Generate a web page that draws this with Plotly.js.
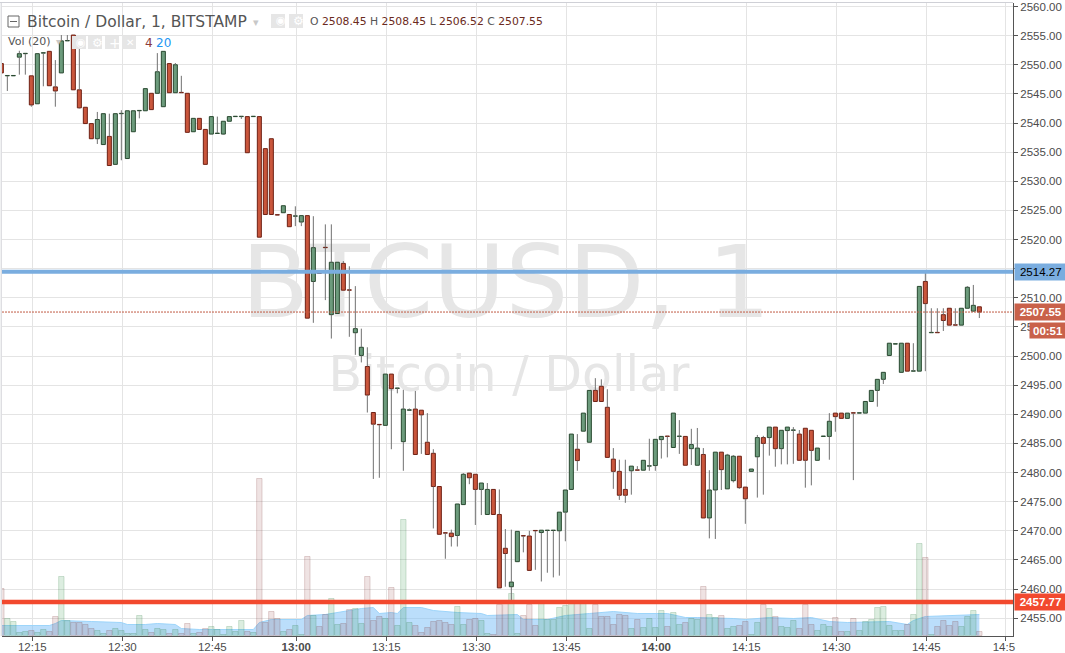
<!DOCTYPE html>
<html><head><meta charset="utf-8">
<script src="https://cdn.plot.ly/plotly-3.0.1.min.js"></script>
<style>html,body{margin:0;padding:0;background:#fff;overflow:hidden}#c{width:1065px;height:653px}</style>
</head><body><div id="c"></div>
<script>
const openP=[2550.2,2548.1,2548.1,2551.3,2551.9,2548.1,2543.3,2552.0,2552.3,2546.2,
2548.6,2554.1,2555.1,2545.7,2542.7,2539.9,2537.3,2536.3,2537.7,2532.9,
2541.6,2533.9,2538.5,2542.1,2542.1,2545.1,2545.1,2542.8,2550.2,2545.2,
2545.25,2545.1,2538.5,2540.8,2538.9,2538.1,2538.2,2538.1,2540.3,2541.1,
2541.1,2541.1,2541.1,2541.1,2535.6,2537.3,2524.25,2524.6,2524.3,2524.0,
2523.0,2524.1,2512.8,2514.25,2518.65,2507.1,2507.3,2515.9,2511.35,2504.0,
2500.1,2498.2,2490.3,2488.25,2488.1,2496.9,2494.45,2485.3,2490.7,2490.9,
2490.7,2485.2,2483.3,2477.6,2469.65,2469.6,2469.2,2474.5,2479.9,2479.7,
2477.1,2472.8,2477.1,2472.8,2467.0,2460.4,2464.7,2469.15,2469.1,2470.05,
2469.7,2470.05,2470.05,2470.0,2473.2,2477.1,2484.0,2487.1,2485.2,2494.1,
2494.8,2491.2,2482.3,2480.2,2477.1,2480.3,2480.45,2480.4,2481.1,2481.2,
2485.65,2486.25,2484.3,2486.2,2486.2,2484.1,2481.25,2483.1,2472.2,2477.0,
2483.5,2477.2,2478.6,2482.8,2477.5,2480.2,2482.7,2486.0,2486.0,2487.8,
2484.1,2487.2,2487.25,2486.6,2487.6,2487.25,2482.1,2486.2,2486.2,2490.2,
2490.2,2489.3,2490.25,2490.2,2490.2,2492.2,2494.1,2496.0,2500.1,2502.05,
2497.2,2502.2,2497.4,2497.4,2512.8,2504.0,2504.05,2507.1,2508.2,2505.35,
2505.3,2508.2,2507.7,2508.45];
const closeP=[2548.6,2548.15,2548.15,2551.9,2551.95,2543.1,2551.9,2552.05,2546.4,2545.5,
2554.1,2554.15,2545.7,2542.6,2539.9,2537.3,2540.6,2541.6,2532.7,2541.6,
2541.65,2542.1,2542.1,2542.15,2545.9,2542.3,2548.8,2552.3,2545.2,2550.0,
2545.2,2538.4,2540.8,2538.9,2532.9,2541.1,2538.25,2540.3,2541.1,2541.15,
2541.15,2534.9,2541.15,2520.4,2524.3,2524.3,2524.2,2525.8,2522.2,2524.05,
2524.1,2506.5,2518.6,2514.2,2518.6,2516.1,2516.1,2511.3,2511.3,2504.7,
2501.5,2493.3,2488.3,2488.2,2496.9,2494.4,2494.5,2490.9,2490.75,2483.1,
2489.9,2483.1,2477.6,2469.4,2469.6,2469.0,2474.6,2479.7,2479.1,2477.1,
2478.2,2477.1,2472.8,2460.2,2466.1,2461.2,2469.9,2469.1,2463.2,2470.0,
2470.1,2470.1,2470.1,2473.2,2477.0,2486.6,2482.05,2490.2,2494.1,2492.2,
2492.2,2482.6,2480.2,2476.1,2476.1,2481.1,2480.4,2482.1,2481.15,2485.7,
2486.2,2486.2,2490.2,2486.25,2481.25,2484.8,2484.2,2472.2,2477.0,2483.5,
2480.5,2483.0,2482.8,2477.4,2475.5,2480.6,2486.0,2485.0,2487.8,2484.1,
2487.25,2487.8,2487.3,2482.1,2482.1,2483.8,2484.2,2486.25,2488.8,2489.6,
2489.3,2490.2,2490.2,2490.25,2492.2,2494.1,2496.0,2497.2,2502.2,2502.1,
2502.2,2497.4,2497.45,2511.95,2509.0,2504.05,2504.0,2506.1,2505.3,2505.3,
2508.2,2511.8,2508.7,2507.55];
const highP=[2550.2,2548.15,2548.15,2552.4,2551.95,2548.1,2551.9,2552.05,2552.3,2550.8,
2555.1,2555.1,2555.1,2554.2,2542.7,2539.9,2541.9,2541.6,2541.6,2541.6,
2542.2,2542.1,2542.1,2542.15,2545.9,2545.1,2552.0,2552.3,2550.2,2550.3,
2548.1,2545.1,2540.8,2540.8,2538.9,2541.1,2541.1,2540.3,2541.1,2541.15,
2541.15,2541.1,2541.15,2541.1,2535.6,2537.3,2524.25,2525.8,2524.3,2525.7,
2524.1,2524.1,2524.0,2514.25,2522.6,2522.6,2516.1,2516.3,2515.4,2512.0,
2504.7,2501.5,2490.3,2488.25,2496.9,2496.9,2494.5,2494.2,2491.0,2494.0,
2490.7,2490.2,2484.0,2477.6,2469.65,2470.2,2474.6,2479.9,2479.9,2479.7,
2478.2,2478.2,2477.1,2477.1,2470.3,2470.2,2469.9,2469.15,2470.0,2470.05,
2470.1,2470.1,2470.1,2473.2,2477.0,2486.6,2486.6,2490.2,2494.1,2496.2,
2496.0,2494.3,2484.2,2482.2,2482.2,2481.1,2481.1,2482.1,2485.8,2485.7,
2486.2,2486.25,2490.2,2489.0,2486.2,2487.5,2487.65,2484.2,2480.4,2483.5,
2483.5,2483.2,2483.0,2482.8,2477.5,2480.6,2486.45,2486.3,2487.8,2487.8,
2487.25,2487.8,2487.8,2487.3,2487.6,2487.25,2484.2,2486.25,2490.2,2490.2,
2490.2,2490.2,2490.25,2490.25,2492.2,2494.1,2496.0,2497.2,2502.2,2502.1,
2502.2,2502.2,2502.2,2511.95,2514.3,2508.2,2508.2,2508.2,2508.2,2508.2,
2508.2,2512.0,2512.2,2508.45];
const lowP=[2548.6,2545.5,2548.1,2548.3,2548.3,2542.8,2543.3,2546.3,2546.4,2542.8,
2548.6,2554.1,2545.7,2542.5,2539.9,2537.3,2536.4,2536.3,2532.7,2532.9,
2533.6,2533.9,2538.5,2540.8,2542.1,2542.3,2545.1,2542.8,2545.2,2545.2,
2545.2,2538.4,2538.5,2538.9,2532.9,2538.1,2538.2,2538.0,2540.3,2541.1,
2540.7,2534.9,2541.1,2520.4,2524.3,2524.3,2524.2,2524.6,2522.2,2522.3,
2522.3,2506.5,2505.7,2514.2,2509.6,2503.0,2507.3,2511.3,2503.3,2500.2,
2498.9,2490.3,2478.9,2479.1,2488.1,2484.0,2493.6,2480.3,2490.7,2483.1,
2483.2,2483.1,2470.4,2469.4,2465.2,2467.3,2467.3,2474.5,2478.0,2471.0,
2472.7,2472.8,2472.8,2460.2,2460.4,2457.9,2464.7,2466.3,2463.2,2463.3,
2461.3,2462.8,2462.0,2462.3,2468.2,2477.1,2480.3,2487.1,2485.2,2492.2,
2492.2,2482.6,2477.2,2475.3,2474.8,2476.2,2480.4,2480.4,2480.3,2480.3,
2482.4,2482.6,2484.3,2483.2,2481.25,2481.3,2481.25,2472.2,2468.7,2468.6,
2477.0,2477.2,2478.3,2477.2,2471.2,2480.2,2475.7,2476.2,2482.9,2481.0,
2481.4,2481.4,2481.5,2482.1,2477.4,2477.8,2482.1,2486.2,2482.2,2487.0,
2489.3,2489.3,2478.7,2490.2,2490.2,2492.2,2491.3,2495.2,2500.1,2502.05,
2497.2,2497.4,2497.4,2497.4,2497.4,2504.0,2504.0,2504.3,2505.3,2505.3,
2505.3,2508.2,2507.7,2506.52];
const volume=[47,17,14,3,4,5,3,6,4,19,59,15,13,13,11,7,5,2,5,7,
5,2,2,20,6,3,7,6,2,6,2,12,2,3,7,9,6,1,9,4,
15,4,3,157,13,24,17,4,6,10,1,79,20,9,21,37,11,12,26,27,
12,59,15,19,17,48,10,116,13,10,3,8,14,15,13,11,29,11,16,17,
15,2,1,31,32,42,2,20,31,10,35,16,16,28,30,32,35,32,7,31,
19,19,11,21,20,7,16,8,17,8,25,9,23,11,13,17,16,49,21,18,
20,7,9,10,14,1,13,31,27,19,9,8,15,7,31,11,5,11,9,18,
4,4,17,5,14,16,28,29,10,5,5,11,21,92,78,1,9,15,10,14,
9,19,25,4];
const maIndex=[0,8,9,10,15,20,21,24,26,29,30,33,42,43,45,50,51,54,58,60,62,63,65,66,67,70,72,76,80,81,86,87,91,94,98,102,106,111,114,116,122,124,128,132,135,138,141,148,151,152,154,159,163];
const maValue=[10,10,12,15,14,13,11,11,12,11,7,6,6,13,16,16,20,21,25,27,28,22,23,22,28,28,25,23,22,20,21,16,16,20,22,24,22,22,18,18,17,16,18,17,18,14,13,14,11,15,19,20,21];
const tickIndex=[5,20,35,49,64,79,94,109,124,139,154,167.2];
const tickLabels=['12:15','12:30','12:45','<b>13:00</b>','13:15','13:30','13:45','<b>14:00</b>','14:15','14:30','14:45','14:5\u00a0'];
const priceTicks=[2455,2460,2465,2470,2475,2480,2485,2490,2495,2500,2505,2510,2515,2520,2525,2530,2535,2540,2545,2550,2555,2560];
const priceLabels=['2455.00','2460.00','2465.00','2470.00','2475.00','2480.00','2485.00','2490.00','2495.00','2500.00','25','2510.00','','2520.00','2525.00','2530.00','2535.00','2540.00','2545.00','2550.00','2555.00','2560.00'];
const resistanceDrawn=2514.47, support=2457.77, lastPrice=2507.55;

const UP='#6c9b7c',DN='#c9563c',UPL='#28482f',DNL='#6e2014',WICK='#707070';
const idx=openP.map((_,i)=>i);
const isUp=idx.map(i=>closeP[i]>=openP[i]);
const bodyTop=idx.map(i=>Math.max(openP[i],closeP[i]));
const bodyBot=idx.map(i=>Math.min(openP[i],closeP[i]));
const wx=[],wy=[];
idx.forEach(i=>{
  if(highP[i]>bodyTop[i]+.01){wx.push(i,i,null);wy.push(bodyTop[i],highP[i],null);}
  if(lowP[i]<bodyBot[i]-.01){wx.push(i,i,null);wy.push(bodyBot[i],lowP[i],null);}
});
const L=2,T=3,W=1011,H=633;
const PR=[2451.94,2560.6];
const px=x=>(x-L)/W, py=y=>1-(y-T)/H;
const note=(x,y,text,size,color)=>({xref:'paper',yref:'paper',x:px(x),y:py(y),text,showarrow:false,xanchor:'left',yanchor:'middle',font:{family:'DejaVu Sans',size,color}});
const box=(x0,y0,x1,y1,fill,lineC)=>({type:'rect',xref:'paper',yref:'paper',x0:px(x0),x1:px(x1),y0:py(y0),y1:py(y1),fillcolor:fill,line:{color:lineC||fill,width:lineC?1:0}});
const badge=(yv,h,text,bg,color,x,w)=>({xref:'paper',yref:'y',x:px(x),y:yv,text,showarrow:false,xanchor:'left',yanchor:'middle',width:w,height:h,bgcolor:bg,borderpad:0,align:'center',font:{family:'Liberation Sans',size:11.5,color}});
const wmFont='DejaVu Sans';
const traces=[
 {type:'scatter',mode:'text',x:[84.1],y:[2511],text:['BTCUSD, 1'],textposition:'middle center',textfont:{family:wmFont,size:99,color:'#e6e6e6'},hoverinfo:'skip',xaxis:'x',yaxis:'y'},
 {type:'scatter',mode:'text',x:[84.6],y:[2496.1],text:['Bitcoin / Dollar'],textposition:'middle center',textfont:{family:wmFont,size:49,color:'#e6e6e6'},hoverinfo:'skip',xaxis:'x',yaxis:'y'},
 {type:'scatter',mode:'lines',x:maIndex,y:maValue,xaxis:'x',yaxis:'y2',fill:'tozeroy',fillcolor:'rgba(120,190,248,.5)',line:{color:'rgba(150,210,250,.9)',width:1},hoverinfo:'skip'},
 {type:'bar',x:idx,y:volume,width:.9,xaxis:'x',yaxis:'y3',
  marker:{color:idx.map(i=>isUp[i]?'rgba(40,140,60,.16)':'rgba(140,60,60,.14)'),line:{width:1,color:idx.map(i=>isUp[i]?'rgba(40,120,60,.2)':'rgba(120,50,50,.2)')}},hoverinfo:'skip'},
 {type:'bar',x:idx,base:bodyBot,y:idx.map(i=>Math.max(bodyTop[i]-bodyBot[i],.06)),width:.67,xaxis:'x',yaxis:'y4',
  marker:{color:idx.map(i=>isUp[i]?UP:DN),line:{width:1,color:idx.map(i=>isUp[i]?UPL:DNL)}},hoverinfo:'skip'},
 {type:'scatter',mode:'lines',x:wx,y:wy,xaxis:'x',yaxis:'y4',connectgaps:false,line:{color:WICK,width:1},hoverinfo:'skip'}
];
const icons=[[271,285],[289,303],[72,86],[88,102],[105,119],[122,136]];
const volAxis={overlaying:'y',side:'right',range:[-.5,632.5],visible:false,showgrid:false,fixedrange:true};
const layout={
 width:1065,height:653,margin:{l:L,r:1065-L-W,t:T,b:653-T-H,pad:0},paper_bgcolor:'#fff',plot_bgcolor:'#fff',showlegend:false,barmode:'overlay',
 font:{family:'Liberation Sans',size:11.5,color:'#4c4c4c'},
 xaxis:{range:[.11,168.61],tickmode:'array',tickvals:tickIndex.map(v=>v+.16),ticktext:tickLabels,showgrid:true,gridcolor:'#e4e4e4',gridwidth:1,zeroline:false,showline:true,linecolor:'#555',linewidth:1,ticks:'outside',ticklen:4,tickcolor:'#555',tickangle:0,ticklabelstandoff:-4,tickfont:{family:'Liberation Sans',size:11.5,color:'#4c4c4c'},fixedrange:true},
 yaxis:{side:'right',range:PR,tickmode:'array',tickvals:priceTicks,ticktext:priceLabels,ticklabeloverflow:'allow',showgrid:true,gridcolor:'#e4e4e4',gridwidth:1,zeroline:false,showline:true,linecolor:'#555',linewidth:1,ticks:'outside',ticklen:4,tickcolor:'#555',tickfont:{family:'Liberation Sans',size:11.5,color:'#4c4c4c'},fixedrange:true},
 yaxis2:volAxis,
 yaxis3:Object.assign({},volAxis),
 yaxis4:{overlaying:'y',side:'right',range:PR,visible:false,showgrid:false,fixedrange:true},
 shapes:[
  {type:'line',xref:'paper',yref:'paper',x0:px(0),x1:px(1013),y0:py(2.5),y1:py(2.5),line:{color:'#cfd0d6',width:1}},
  {type:'line',xref:'paper',yref:'paper',x0:px(1.2),x1:px(1.2),y0:py(2.5),y1:py(636),line:{color:'#cfd0d6',width:1}},
  {type:'line',xref:'paper',yref:'y',x0:0,x1:1,y0:lastPrice,y1:lastPrice,line:{color:'#c05a44',width:1,dash:'2px,1px'}},
  {type:'line',xref:'paper',yref:'y',x0:0,x1:1,y0:resistanceDrawn,y1:resistanceDrawn,line:{color:'#7aaddf',width:4}},
  {type:'line',xref:'paper',yref:'y',x0:0,x1:1,y0:support,y1:support,line:{color:'#f2492e',width:4.5}},
  box(8,16,19,27,'rgba(0,0,0,0)','#666'),
  {type:'line',xref:'paper',yref:'paper',x0:px(10),x1:px(17),y0:py(21.5),y1:py(21.5),line:{color:'#666',width:1}},
  ...icons.map(p=>box(p[0],p[0]>200?14:36,p[1],p[0]>200?28:49,'#e6e6e6'))
 ],
 annotations:[
  note(24.5,22,'Bitcoin / Dollar, 1, BITSTAMP',15.5,'#555'),
  note(251,22,'\u25be',11,'#c8c8c8'),
  note(308,21.5,'<span style="color:#555">O</span> 2508.45 <span style="color:#555">H</span> 2508.45 <span style="color:#555">L</span> 2506.52 <span style="color:#555">C</span> 2507.55',10.8,'#6b2a20'),
  note(5.5,42,'Vol (20)',11,'#555'),
  note(54,42,'\u25be',10,'#c8c8c8'),
  note(143,42.5,'4',12,'#8b3a3a'),
  note(154,42.5,'20',12,'#2196f3'),
  note(273.5,21,'\u25c9',11,'#fff'),note(290.5,21,'\u2699',12,'#fff'),
  note(74,42.5,'\u25c9',11,'#fff'),note(89.5,42.5,'\u2699',12,'#fff'),note(107,42.5,'+',14,'#fff'),note(124,42.5,'\u2715',10,'#fff'),
  badge(resistanceDrawn,16,'2514.27','#7aaddf','#000',1013.5,51.5),
  badge(lastPrice,16,'<b>2507.55</b>','#c9614a','#fff',1013.5,51.5),
  badge(2504.37,15,'<b>00:51</b>','#c9614a','#fff',1029,36),
  badge(support,16,'<b>2457.77</b>','#f2492e','#fff',1013.5,51)
 ]
};
Plotly.newPlot('c',traces,layout,{staticPlot:true,displayModeBar:false});
</script></body></html>
